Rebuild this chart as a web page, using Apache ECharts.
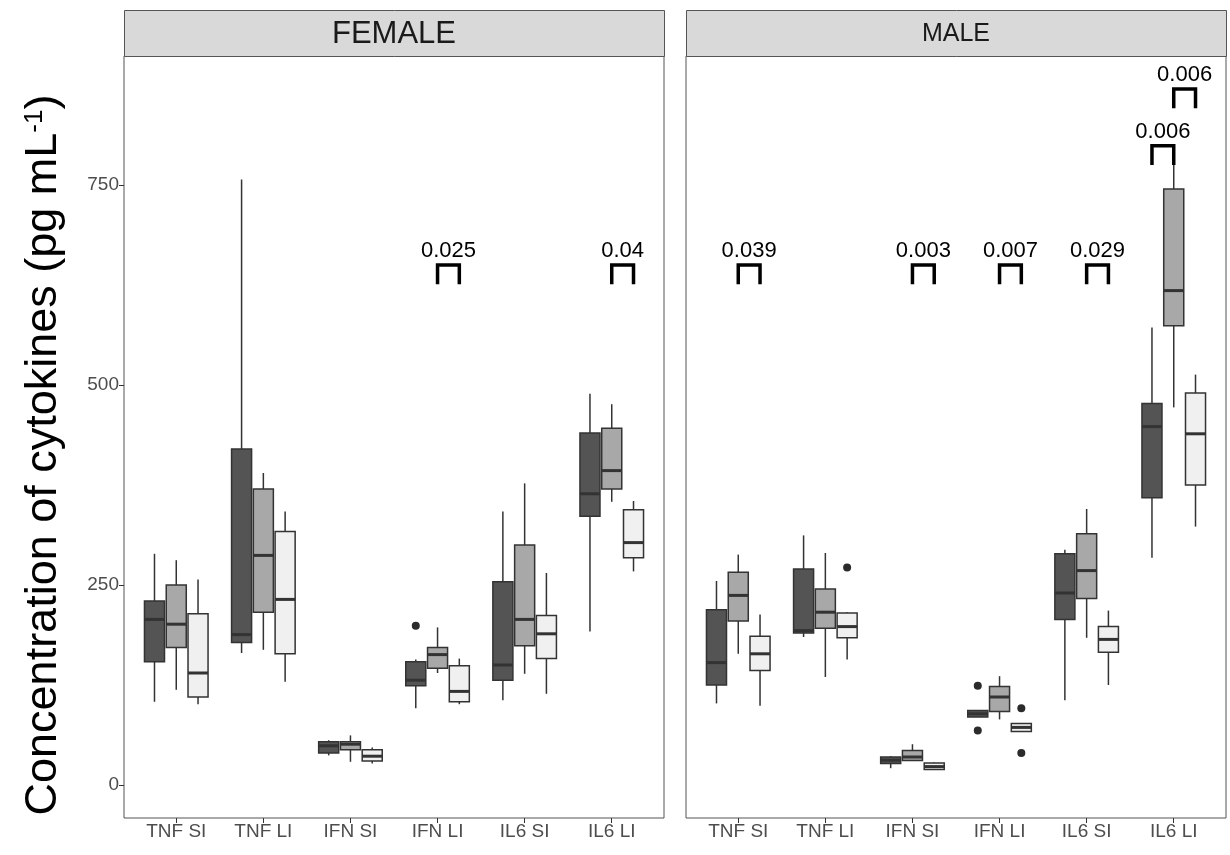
<!DOCTYPE html>
<html>
<head>
<meta charset="utf-8">
<title>Cytokine concentrations</title>
<script src="https://cdn.jsdelivr.net/npm/echarts@6/dist/echarts.min.js"></script>
<style>
  html, body { margin: 0; padding: 0; background: #ffffff; }
  #chart { width: 1230px; height: 855px; }
</style>
</head>
<body>
<div id="chart"></div>
<script>
// Tissue / cytokine categories along the x axis
const categories = ['TNF SI', 'TNF LI', 'IFN SI', 'IFN LI', 'IL6 SI', 'IL6 LI'];
const yTicks = [0, 250, 500, 750];

// Box summaries per category: [lower whisker, Q1, median, Q3, upper whisker]
const femaleDark = [
  [104, 154, 207, 230, 289],
  [165, 178, 188, 420, 757],
  [37, 40, 49, 54, 56],
  [96, 124, 131, 154, 157],
  [106, 131, 150, 254, 342],
  [192, 336, 364, 440, 489]
];
const femaleGray = [
  [119, 172, 201, 250, 281],
  [169, 216, 287, 370, 390],
  [29, 44, 51, 54, 62],
  [140, 146, 163, 172, 197],
  [139, 174, 207, 300, 377],
  [354, 370, 393, 446, 476]
];
const femaleLight = [
  [101, 110, 140, 214, 257],
  [129, 164, 232, 317, 342],
  [27, 30, 36, 44, 47],
  [101, 104, 117, 149, 158],
  [114, 158, 189, 212, 265],
  [267, 284, 303, 344, 355]
];
const maleDark = [
  [102, 125, 153, 219, 255],
  [185, 190, 193, 270, 312],
  [21, 27, 31, 35, 36],
  [85, 85, 89, 93, 93],
  [106, 207, 240, 289, 294],
  [284, 359, 448, 477, 572]
];
const maleGray = [
  [164, 205, 237, 266, 288],
  [135, 196, 216, 245, 290],
  [30, 30.5, 35, 43, 51],
  [82, 92, 110, 123, 136],
  [184, 233, 268, 314, 345],
  [472, 574, 618, 745, 780]
];
const maleLight = [
  [99, 143, 164, 186, 213],
  [157, 184, 198, 215, 216],
  [19, 19.5, 23, 27.5, 28],
  [67, 67, 72, 77, 77],
  [125, 166, 182, 198, 218],
  [323, 375, 439, 490, 513]
];

// Outlying points: [category index, group index (0 dark, 1 gray, 2 light), value]
const femaleOutliers = [
  [3, 0, 199]
];
const maleOutliers = [
  [1, 2, 272],
  [3, 0, 124],
  [3, 0, 68],
  [3, 2, 96],
  [3, 2, 40]
];

// Significance brackets: [category index, from group, to group, bracket height, p-value]
const femaleSig = [
  [3, 1, 2, 650, '0.025'],
  [5, 1, 2, 650, '0.04']
];
const maleSig = [
  [0, 1, 2, 650, '0.039'],
  [2, 1, 2, 650, '0.003'],
  [3, 1, 2, 650, '0.007'],
  [4, 1, 2, 650, '0.029'],
  [5, 0, 1, 799, '0.006'],
  [5, 1, 2, 870, '0.006']
];

// ---- drawing settings ----
const FONT = '"Liberation Sans", Arial, Helvetica, sans-serif';
const SLOT = 0.25;          // dodge spacing between groups (x units)
const BOX_W = 0.23;         // box width (x units)
const TIP = 24;             // bracket leg length (y units)
const FILLS = ['#545454', '#a8a8a8', '#f0f0f0'];
const EDGE = '#333333';
const Y_MIN = -41.25, Y_MAX = 911.25;

const PANELS = [
  { left: 124, top: 56, width: 540, height: 762, label: 'FEMALE', labelSize: 31 },
  { left: 686, top: 56, width: 540, height: 762, label: 'MALE', labelSize: 25 }
];
const STRIP_TOP = 10;

function groupPos(cat, g) { return cat + 1 + (g - 1) * SLOT; }

function boxSeries(panel, groups) {
  const data = [];
  groups.forEach((arr, g) => {
    arr.forEach((b, c) => data.push([groupPos(c, g)].concat(b, [g])));
  });
  return {
    type: 'custom',
    xAxisIndex: panel,
    yAxisIndex: panel,
    data: data,
    encode: { x: 0, y: [1, 2, 3, 4, 5] },
    z: 2,
    renderItem: function (params, api) {
      const x = api.value(0);
      const lo = api.coord([x, api.value(1)]);
      const q1 = api.coord([x, api.value(2)]);
      const md = api.coord([x, api.value(3)]);
      const q3 = api.coord([x, api.value(4)]);
      const hi = api.coord([x, api.value(5)]);
      const g = api.value(6);
      const w = api.size([BOX_W, 0])[0];
      const cx = lo[0];
      const lineStyle = { stroke: EDGE, lineWidth: 1.5 };
      return {
        type: 'group',
        children: [
          { type: 'line', shape: { x1: cx, y1: hi[1], x2: cx, y2: q3[1] }, style: lineStyle },
          { type: 'line', shape: { x1: cx, y1: q1[1], x2: cx, y2: lo[1] }, style: lineStyle },
          { type: 'rect', shape: { x: cx - w / 2, y: q3[1], width: w, height: q1[1] - q3[1] },
            style: { fill: FILLS[g], stroke: EDGE, lineWidth: 1.5 } },
          { type: 'line', shape: { x1: cx - w / 2, y1: md[1], x2: cx + w / 2, y2: md[1] },
            style: { stroke: EDGE, lineWidth: 3 } }
        ]
      };
    }
  };
}

function outlierSeries(panel, pts) {
  return {
    type: 'scatter',
    xAxisIndex: panel,
    yAxisIndex: panel,
    data: pts.map(p => [groupPos(p[0], p[1]), p[2]]),
    symbol: 'circle',
    symbolSize: 8,
    itemStyle: { color: '#2b2b2b', borderWidth: 0, opacity: 1 },
    z: 3,
    silent: true
  };
}

function sigSeries(panel, sig) {
  return {
    type: 'custom',
    xAxisIndex: panel,
    yAxisIndex: panel,
    data: sig.map(s => [groupPos(s[0], s[1]), groupPos(s[0], s[2]), s[3]]),
    encode: { x: [0, 1], y: 2 },
    z: 4,
    renderItem: function (params, api) {
      const x1 = api.value(0), x2 = api.value(1), y = api.value(2);
      const a = api.coord([x1, y - TIP]);
      const b = api.coord([x1, y]);
      const c = api.coord([x2, y]);
      const d = api.coord([x2, y - TIP]);
      return {
        type: 'group',
        children: [
          { type: 'polyline', shape: { points: [a, b, c, d] },
            style: { stroke: '#000000', lineWidth: 3.5, fill: null, lineJoin: 'miter' } },
          { type: 'text', x: (b[0] + c[0]) / 2, y: b[1] - 3,
            style: { text: sig[params.dataIndex][4], fill: '#000000', fontSize: 22,
                     fontFamily: FONT, align: 'center', verticalAlign: 'bottom' } }
        ]
      };
    }
  };
}

const chart = echarts.init(document.getElementById('chart'), null, { renderer: 'canvas' });

const grids = PANELS.map(p => ({
  left: p.left, top: p.top, width: p.width, height: p.height,
  show: true, backgroundColor: '#ffffff', borderColor: '#555555', borderWidth: 1
}));

const xAxes = PANELS.map((p, i) => ({
  type: 'value', gridIndex: i, min: 0.4, max: 6.6, position: 'bottom',
  axisLine: { show: false, onZero: false },
  splitLine: { show: false },
  axisTick: { show: true, length: 5, inside: false, customValues: [1, 2, 3, 4, 5, 6],
              lineStyle: { color: '#333333', width: 1 } },
  axisLabel: { customValues: [1, 2, 3, 4, 5, 6], margin: 4, color: '#4d4d4d',
               fontSize: 19, fontFamily: FONT,
               formatter: v => categories[Math.round(v) - 1] }
}));

const yAxes = PANELS.map((p, i) => ({
  type: 'value', gridIndex: i, min: Y_MIN, max: Y_MAX, position: 'left',
  axisLine: { show: false, onZero: false },
  splitLine: { show: false },
  axisTick: { show: i === 0, length: 5, customValues: yTicks,
              lineStyle: { color: '#333333', width: 1 } },
  axisLabel: { show: i === 0, customValues: yTicks, margin: 5, color: '#4d4d4d',
               fontSize: 19, fontFamily: FONT }
}));

// Facet strips above each panel, plus the shared y axis title
const graphics = [];
PANELS.forEach(p => {
  graphics.push({
    type: 'rect', left: p.left, top: STRIP_TOP,
    shape: { width: p.width, height: p.top - STRIP_TOP },
    style: { fill: '#d9d9d9', stroke: '#555555', lineWidth: 1 }, z: 10
  });
  graphics.push({
    type: 'text', x: p.left + p.width / 2, y: STRIP_TOP + (p.top - STRIP_TOP) / 2 + 1,
    style: { text: p.label, fill: '#1a1a1a', fontSize: p.labelSize, fontFamily: FONT,
             align: 'center', verticalAlign: 'middle' }, z: 11
  });
});
graphics.push({
  type: 'text', x: 44, y: 455, rotation: Math.PI / 2, z: 11,
  style: {
    text: '{a|Concentration of cytokines (pg mL}{s|-1}{a|)}',
    align: 'center', verticalAlign: 'middle',
    rich: {
      a: { fontSize: 45, fontFamily: FONT, fill: '#000000' },
      s: { fontSize: 26, fontFamily: FONT, fill: '#000000', verticalAlign: 'top' }
    }
  }
});

chart.setOption({
  animation: false,
  backgroundColor: '#ffffff',
  grid: grids,
  xAxis: xAxes,
  yAxis: yAxes,
  graphic: graphics,
  series: [
    boxSeries(0, [femaleDark, femaleGray, femaleLight]),
    boxSeries(1, [maleDark, maleGray, maleLight]),
    outlierSeries(0, femaleOutliers),
    outlierSeries(1, maleOutliers),
    sigSeries(0, femaleSig),
    sigSeries(1, maleSig)
  ]
});
</script>
</body>
</html>
